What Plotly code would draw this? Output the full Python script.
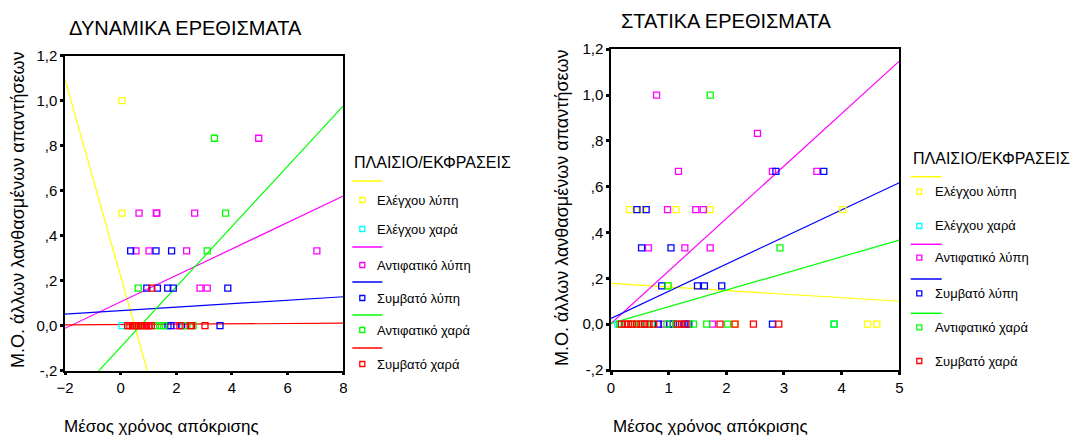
import numpy as np
import plotly.graph_objects as go

W, H = 1079, 435
FONT = "Liberation Sans, Arial, sans-serif"

group_names = ["Ελέγχου λύπη", "Ελέγχου χαρά", "Αντιφατικό λύπη",
               "Συμβατό λύπη", "Αντιφατικό χαρά", "Συμβατό χαρά"]
group_colors = ["#ffff00", "#00ffff", "#ff00ff", "#0000ff", "#00ff00", "#ff0000"]

# ---------------- ΔΥΝΑΜΙΚΑ ΕΡΕΘΙΣΜΑΤΑ (left panel) ----------------
dyn_y1_x = [0.05, 0.05, 0.45, 0.75]
dyn_y1_y = [1.0, 0.5, 0.0, 0.0]
dyn_c1_x = [0.05]
dyn_c1_y = [0.0]
dyn_m1_x = [4.96, 0.66, 1.28, 1.30, 2.66, 0.55, 1.02, 2.37, 7.05, 2.85, 3.11, 1.00, 2.01]
dyn_m1_y = [0.833, 0.5, 0.5, 0.5, 0.5, 0.333, 0.333, 0.333, 0.333, 0.167, 0.167, 0.0, 0.0]
dyn_b1_x = [0.36, 1.27, 1.83, 0.94, 1.32, 1.69, 1.89, 3.85, 1.70, 1.80, 2.19, 3.57]
dyn_b1_y = [0.333, 0.333, 0.333, 0.167, 0.167, 0.167, 0.167, 0.167, 0.0, 0.0, 0.0, 0.0]
dyn_g1_x = [3.37, 3.77, 3.11, 0.63, 0.60, 1.25, 1.40, 1.55, 2.31, 2.60]
dyn_g1_y = [0.833, 0.5, 0.333, 0.167, 0.0, 0.0, 0.0, 0.0, 0.0, 0.0]
dyn_r1_x = [1.12, 0.25, 0.33, 0.42, 0.50, 0.58, 0.66, 0.75, 0.85, 0.93, 1.02, 1.10,
            2.13, 2.50, 2.55, 3.03]
dyn_r1_y = [0.167, 0, 0, 0, 0, 0, 0, 0, 0, 0, 0, 0, 0, 0, 0, 0]
dyn_fit_intercept = [0.219, None, 0.106, 0.067, -0.095, 0.0054]
dyn_fit_slope = [-0.438, None, 0.0588, 0.0077, 0.134, 0.0007]

# ---------------- ΣΤΑΤΙΚΑ ΕΡΕΘΙΣΜΑΤΑ (right panel) ----------------
st_y1_x = [0.32, 0.53, 1.13, 1.72, 4.02, 0.99, 2.15, 4.45, 4.61]
st_y1_y = [0.5, 0.5, 0.5, 0.5, 0.5, 0.167, 0.0, 0.0, 0.0]
st_c1_x = [0.12, 3.87]
st_c1_y = [0.0, 0.0]
st_m1_x = [0.79, 2.54, 1.17, 2.80, 3.57, 0.98, 1.47, 1.60, 0.65, 1.28, 1.72, 0.91, 1.76]
st_m1_y = [1.0, 0.833, 0.667, 0.667, 0.667, 0.5, 0.5, 0.5, 0.333, 0.333, 0.333, 0.0, 0.0]
st_b1_x = [2.86, 3.69, 0.45, 0.61, 0.53, 1.04, 0.88, 1.50, 1.62, 1.92,
           0.60, 0.82, 1.02, 1.08, 1.28, 1.35, 2.80]
st_b1_y = [0.667, 0.667, 0.5, 0.5, 0.333, 0.333, 0.167, 0.167, 0.167, 0.167,
           0, 0, 0, 0, 0, 0, 0]
st_g1_x = [1.72, 2.93, 0.99, 0.15, 0.35, 0.50, 0.70, 0.97, 1.12, 1.43, 1.66, 2.02, 3.87]
st_g1_y = [1.0, 0.333, 0.167, 0, 0, 0, 0, 0, 0, 0, 0, 0, 0]
st_r1_x = [0.18, 0.24, 0.30, 0.37, 0.44, 0.52, 0.58, 0.66, 0.74, 1.15, 1.22, 1.30,
           1.89, 2.15, 2.47, 2.91]
st_r1_y = [0] * 16
st_fit_intercept = [0.178, None, 0.003, 0.025, 0.003, None]
st_fit_slope = [-0.0156, None, 0.229, 0.1185, 0.0728, None]

y_tickvals = [-0.2, 0.0, 0.2, 0.4, 0.6, 0.8, 1.0, 1.2]
y_ticktext = ["-,2", "0,0", ",2", ",4", ",6", ",8", "1,0", "1,2"]
dyn_x_ticks = [-2, 0, 2, 4, 6, 8]
st_x_ticks = [0, 1, 2, 3, 4, 5]

titles = ["ΔΥΝΑΜΙΚΑ ΕΡΕΘΙΣΜΑΤΑ", "ΣΤΑΤΙΚΑ ΕΡΕΘΙΣΜΑΤΑ"]
x_title = "Μέσος χρόνος απόκρισης"
y_title = "Μ.Ο. άλλων λανθασμένων απαντήσεων"
legend_title = "ΠΛΑΙΣΙΟ/ΕΚΦΡΑΣΕΙΣ"

dyn_groups = [(dyn_y1_x, dyn_y1_y), (dyn_c1_x, dyn_c1_y), (dyn_m1_x, dyn_m1_y),
              (dyn_b1_x, dyn_b1_y), (dyn_g1_x, dyn_g1_y), (dyn_r1_x, dyn_r1_y)]
st_groups = [(st_y1_x, st_y1_y), (st_c1_x, st_c1_y), (st_m1_x, st_m1_y),
             (st_b1_x, st_b1_y), (st_g1_x, st_g1_y), (st_r1_x, st_r1_y)]

fig = go.Figure()


def add_panel(groups, intercepts, slopes, xr, xa, ya):
    xs = np.array(xr, dtype=float)
    for i, (gx, gy) in enumerate(groups):
        if intercepts[i] is not None:
            fig.add_trace(go.Scatter(
                x=xs, y=intercepts[i] + slopes[i] * xs, mode="lines",
                line=dict(color=group_colors[i], width=1.2),
                xaxis=xa, yaxis=ya, showlegend=False, hoverinfo="skip"))
    for i, (gx, gy) in enumerate(groups):
        fig.add_trace(go.Scatter(
            x=gx, y=gy, mode="markers", name=group_names[i],
            marker=dict(symbol="square-open", size=6, color=group_colors[i],
                        line=dict(width=1.3, color=group_colors[i])),
            xaxis=xa, yaxis=ya, showlegend=False))


add_panel(dyn_groups, dyn_fit_intercept, dyn_fit_slope, [-2, 8], "x", "y")
add_panel(st_groups, st_fit_intercept, st_fit_slope, [0, 5], "x2", "y2")


def px(x):
    return x / W


def py(y):
    return 1 - y / H


axis_common = dict(showgrid=False, zeroline=False, showline=True, linecolor="black",
                   linewidth=1.5, mirror=True, ticks="outside", ticklen=3, tickwidth=3,
                   tickcolor="black", tickfont=dict(family=FONT, size=15, color="black"),
                   fixedrange=True, automargin=False)

fig.update_layout(
    autosize=True,
    margin=dict(l=0, r=0, t=0, b=0, pad=0, autoexpand=False),
    paper_bgcolor="white", plot_bgcolor="white",
    font=dict(family=FONT, color="black"),
    showlegend=False,
    xaxis=dict(domain=[px(65), px(343.3)], range=[-2, 8], tickvals=dyn_x_ticks,
               anchor="y", **axis_common),
    yaxis=dict(domain=[py(370.7), py(55.7)], range=[-0.2, 1.2], tickvals=y_tickvals,
               ticktext=y_ticktext, anchor="x", **axis_common),
    xaxis2=dict(domain=[px(611), px(899.3)], range=[0, 5], tickvals=st_x_ticks,
                anchor="y2", **axis_common),
    yaxis2=dict(domain=[py(370), py(49.2)], range=[-0.2, 1.2], tickvals=y_tickvals,
                ticktext=y_ticktext, anchor="x2", **axis_common),
)

annotations = []
shapes = []


def text(x, y, s, size, xanchor="center", angle=0):
    annotations.append(dict(x=px(x), y=py(y), xref="paper", yref="paper", text=s,
                            showarrow=False, xanchor=xanchor, yanchor="middle",
                            textangle=angle,
                            font=dict(family=FONT, size=size, color="black")))


# titles
text(185, 28, titles[0], 20)
text(726, 21, titles[1], 20)
# axis titles
text(161.7, 426, x_title, 17)
text(710, 426, x_title, 17)
text(18, 210, y_title, 18, angle=-90)
text(562, 208, y_title, 18, angle=-90)


def legend(x0, title_y, line_ys, marker_ys, has_line, mk_dx, txt_dx, line_len):
    text(x0, title_y, legend_title, 16, xanchor="left")
    for i in range(6):
        c = group_colors[i]
        if has_line[i]:
            ly = line_ys[i]
            shapes.append(dict(type="line", xref="paper", yref="paper",
                               x0=px(x0), x1=px(x0 + line_len), y0=py(ly), y1=py(ly),
                               line=dict(color=c, width=1.5)))
        my = marker_ys[i]
        mx = x0 + mk_dx
        shapes.append(dict(type="rect", xref="paper", yref="paper",
                           x0=px(mx - 2.5), x1=px(mx + 2.5), y0=py(my + 2.5), y1=py(my - 2.5),
                           line=dict(color=c, width=1.3)))
        text(x0 + txt_dx, my, group_names[i], 13, xanchor="left")


legend(352.3, 162, [181, None, 247, 282, 315, 348], [200, 229, 265, 298, 330, 364],
       [True, False, True, True, True, True], 10, 23, 30)
legend(910.7, 158.3, [176.7, None, 244.3, 279, 313.3, None],
       [191.7, 226, 257.7, 293.3, 327.3, 361],
       [True, False, True, True, True, False], 8.6, 22.6, 31)

fig.update_layout(annotations=annotations, shapes=shapes)

# the graph div is pinned to the top-left corner of the 1079x435 window
fig.write_html("out.html", config=dict(displayModeBar=False),
               default_width="1079px",
               default_height="435px; position:absolute; top:0px; left:0px")
